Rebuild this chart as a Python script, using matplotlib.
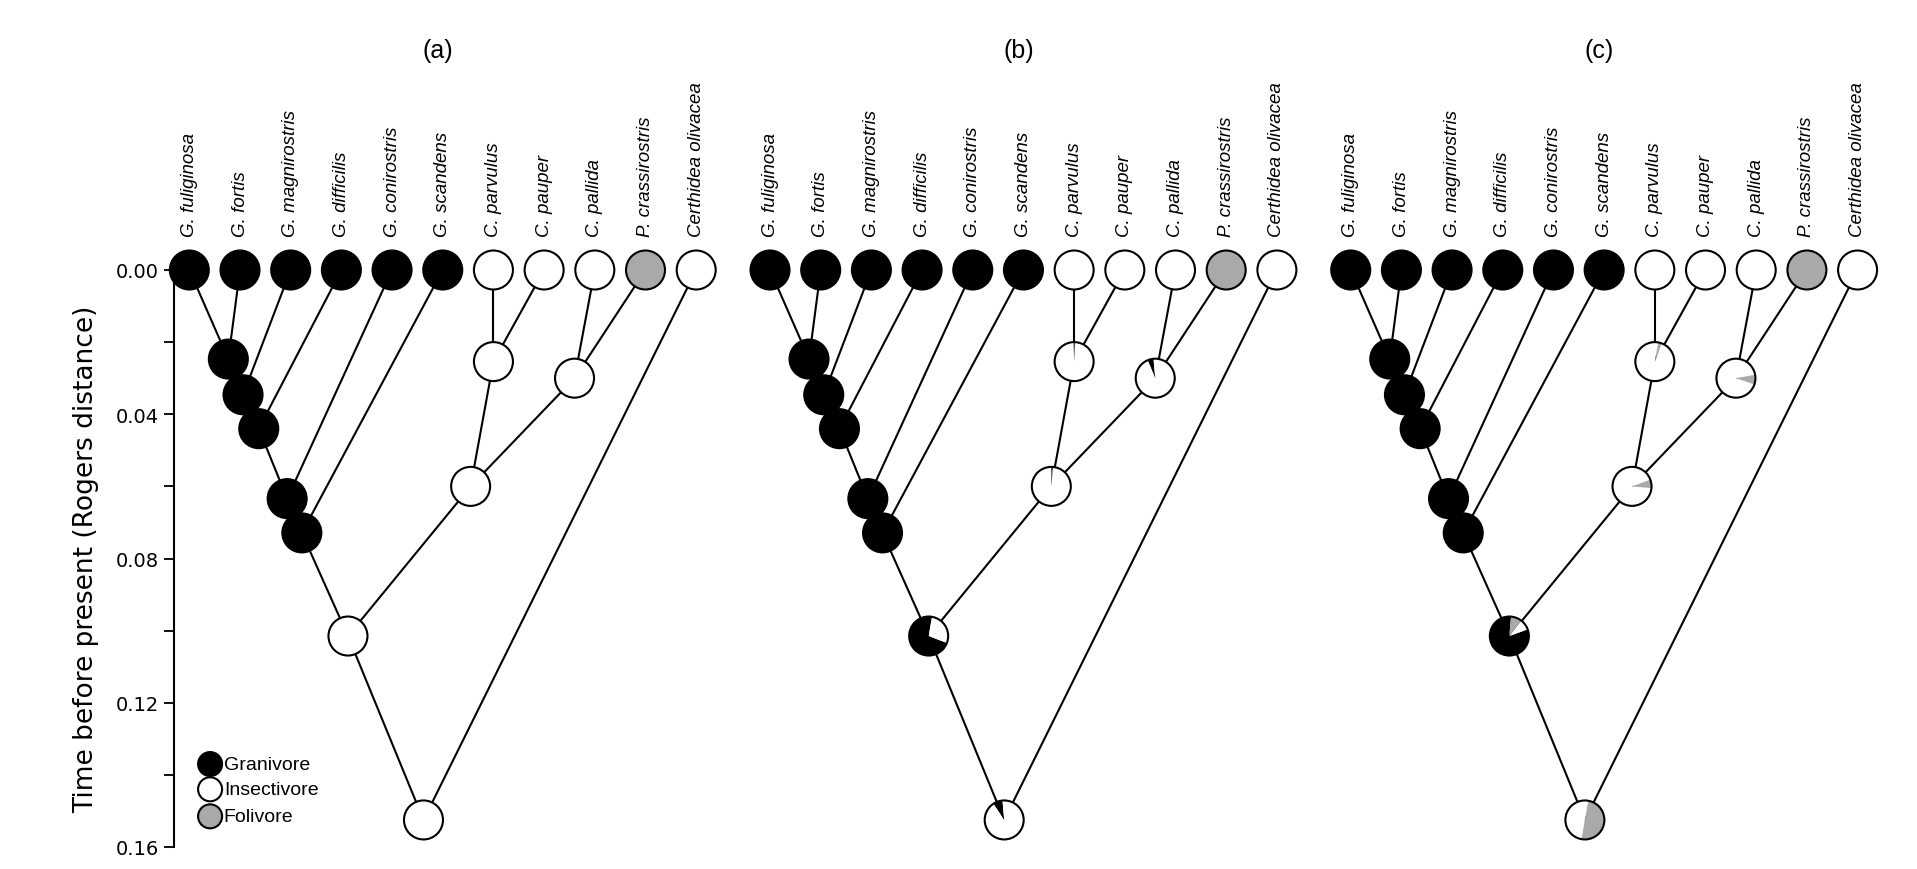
import matplotlib
matplotlib.use("Agg")
import matplotlib.pyplot as plt
from matplotlib.patches import Wedge, Circle
from matplotlib.transforms import IdentityTransform

species = ["G. fuliginosa", "G. fortis", "G. magnirostris", "G. difficilis", "G. conirostris",
           "G. scandens", "C. parvulus", "C. pauper", "C. pallida", "P. crassirostris",
           "Certhidea olivacea"]
# tip diet: 0 granivore, 1 insectivore, 2 folivore
tip_diet = [0, 0, 0, 0, 0, 0, 1, 1, 1, 2, 1]

# internal nodes: children, time (Rogers distance), horizontal layout position (tip index units)
node_children = [(0, 1), ("n1", 2), ("n2", 3), ("n3", 4), ("n4", 5), (6, 7), (8, 9),
                 ("n6", "n7"), ("n5", "n8"), ("n9", 10)]
node_time = [0.0247, 0.0346, 0.044, 0.0634, 0.0729, 0.0254, 0.030, 0.060, 0.1015, 0.1525]
node_pos = [0.77, 1.06, 1.37, 1.93, 2.22, 6.0, 7.6, 5.55, 3.13, 4.62]

# reconstructed state probabilities [granivore, insectivore, folivore] per panel, with start angle
panel_a = [[1, 0, 0]] * 5 + [[0, 1, 0]] * 5
panel_b = [[1, 0, 0]] * 5 + [[0.01, 0.99, 0], [0.05, 0.95, 0], [0.015, 0.985, 0],
                             [0.72, 0.28, 0], [0.08, 0.92, 0]]
panel_c = [[1, 0, 0]] * 5 + [[0, 0.97, 0.03], [0, 0.92, 0.08], [0, 0.93, 0.07],
                             [0.82, 0.09, 0.09], [0, 0.5, 0.5]]
start_b = [90] * 5 + [88, 95, 85, 80, 95]
start_c = [90] * 5 + [80, 10, 20, 85, 80]
panels = [("(a)", panel_a, [90] * 10), ("(b)", panel_b, start_b), ("(c)", panel_c, start_c)]

legend_labels = ["Granivore", "Insectivore", "Folivore"]
yticks = [0.0, 0.02, 0.04, 0.06, 0.08, 0.10, 0.12, 0.14, 0.16]

colors = ["black", "white", "#a9a9a9"]
W, H = 1917, 870
fig = plt.figure(figsize=(W / 100, H / 100), dpi=100)
fig.patch.set_facecolor("white")

R = 19.5
axes = []
for k in range(3):
    left = (173.6 + 580.7 * k) / W
    ax = fig.add_axes([left, 22 / H, 553 / W, 577 / H])
    ax.set_xlim(-0.31, 10.6)
    ax.set_ylim(0.16, 0.0)
    for s in ["top", "right", "bottom"]:
        ax.spines[s].set_visible(False)
    ax.set_xticks([])
    if k == 0:
        ax.spines["left"].set_linewidth(1.5)
        ax.set_yticks(yticks)
        ax.set_yticklabels([f"{v:.2f}" if i % 2 == 0 else "" for i, v in enumerate(yticks)],
                           fontsize=14)
        ax.tick_params(axis="y", direction="out", length=7, width=1.3)
        ax.set_ylabel("Time before present (Rogers distance)", fontsize=19, labelpad=12)
    else:
        ax.spines["left"].set_visible(False)
        ax.set_yticks([])
    axes.append(ax)

fig.canvas.draw()

def pos(ref):
    if isinstance(ref, int):
        return ref, 0.0
    i = int(ref[1:]) - 1
    return node_pos[i], node_time[i]

def pie(ax, x, y, fracs, start, r=R):
    cx, cy = ax.transData.transform((x, y))
    nz = [(f, c) for f, c in zip(fracs, colors) if f > 0]
    if len(nz) == 1:
        ax.add_patch(Circle((cx, cy), r, facecolor=nz[0][1], edgecolor="black", lw=1.5,
                            transform=IdentityTransform(), clip_on=False, zorder=3))
        return
    a = start
    for f, c in nz:
        b = a + 360 * f
        ax.add_patch(Wedge((cx, cy), r, a, b, facecolor=c, edgecolor="none",
                           transform=IdentityTransform(), clip_on=False, zorder=3))
        a = b
    ax.add_patch(Circle((cx, cy), r, facecolor="none", edgecolor="black", lw=1.5,
                        transform=IdentityTransform(), clip_on=False, zorder=4))

for ax, (title, probs, starts) in zip(axes, panels):
    for i, ch in enumerate(node_children):
        for c in ch:
            x0, y0 = pos(c)
            ax.plot([x0, node_pos[i]], [y0, node_time[i]], color="black", lw=1.5,
                    zorder=1, clip_on=False)
    for i, d in enumerate(tip_diet):
        f = [0, 0, 0]
        f[d] = 1
        pie(ax, i, 0.0, f, 90)
        ax.text(i, -0.0095, species[i], rotation=90, ha="center", va="bottom",
                fontsize=13.5, style="italic", family="Liberation Sans", clip_on=False)
    for i in range(len(node_pos)):
        pie(ax, node_pos[i], node_time[i], probs[i], starts[i])
    ax.text(4.9, -0.061, title, ha="center", va="center", fontsize=18,
            family="Liberation Sans", clip_on=False)

ax = axes[0]
for j, (lab, t) in enumerate(zip(legend_labels, [0.137, 0.144, 0.1515])):
    f = [0, 0, 0]
    f[j] = 1
    pie(ax, 0.41, t, f, 90, r=12)
    ax.text(0.68, t, lab, ha="left", va="center", fontsize=14, family="Liberation Sans")

fig.savefig("out.png", dpi=100, facecolor="white")
